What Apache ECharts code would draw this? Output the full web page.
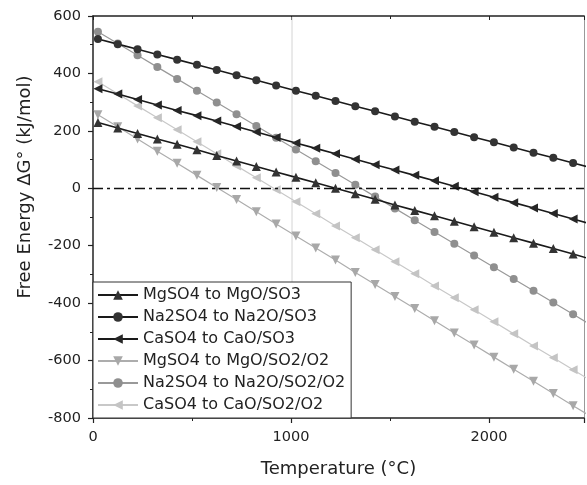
<!DOCTYPE html>
<html>
<head>
<meta charset="utf-8">
<script src="https://cdn.jsdelivr.net/npm/echarts@6/dist/echarts.min.js"></script>
<style>html,body{margin:0;padding:0;background:#fff;}#c{width:587px;height:485px;}</style>
</head>
<body>
<div id="c"></div>
<script>
var temps = [25,125,225,325,425,525,625,725,825,925,1025,1125,1225,1325,1425,1525,1625,1725,1825,1925,2025,2125,2225,2325,2425,2525];
var mgSO3 = [229,210,191,172,153,134,114,95,76,57,38,19,0,-19,-38,-58,-77,-96,-115,-134,-153,-172,-191,-210,-229,-249];
var naSO3 = [520,502,484,466,448,430,412,394,376,358,340,322,304,286,268,250,232,214,196,178,160,142,124,106,88,70];
var caSO3 = [347,328,309,290,271,253,234,215,196,177,158,139,120,101,82,64,45,26,7,-12,-31,-50,-69,-88,-107,-126];
var mgSO2 = [256,214,172,129,87,45,3,-39,-82,-124,-166,-208,-250,-293,-335,-377,-419,-461,-504,-546,-588,-630,-672,-715,-757,-799];
var naSO2 = [545,504,463,422,381,340,299,258,217,176,135,94,53,12,-29,-70,-111,-152,-193,-234,-275,-316,-357,-398,-439,-480];
var caSO2 = [371,329,287,246,204,162,120,78,37,-5,-47,-89,-131,-172,-214,-256,-298,-340,-381,-423,-465,-507,-549,-590,-632,-674];
var names = ['MgSO4 to MgO/SO3','Na2SO4 to Na2O/SO3','CaSO4 to CaO/SO3','MgSO4 to MgO/SO2/O2','Na2SO4 to Na2O/SO2/O2','CaSO4 to CaO/SO2/O2'];
var xTicks = [0,1000,2000];
var yTicks = [-800,-600,-400,-200,0,200,400,600];

function pairs(v){ return temps.map(function(t,i){ return [t, v[i]]; }); }
var FONT = 'DejaVu Sans';
function mk(name, vals, color, lineColor, symbol, rot, size, width, z){
  return {
    name: name, type: 'line', data: pairs(vals), z: z,
    symbol: symbol, symbolRotate: rot, symbolSize: size,
    itemStyle: {color: color},
    lineStyle: {color: lineColor, width: width},
    emphasis: {disabled: true}, animation: false, clip: true
  };
}
var series = [
  mk(names[5], caSO2, '#c4c4c4', '#c8c8c8', 'triangle', 90, 9, 1.2, 2),
  mk(names[3], mgSO2, '#a8a8a8', '#adadad', 'triangle', 180, 9, 1.2, 2),
  mk(names[4], naSO2, '#8f8f8f', '#999999', 'circle', 0, 8, 1.2, 3),
  mk(names[2], caSO3, '#262626', '#1a1a1a', 'triangle', 90, 9, 1.6, 4),
  mk(names[1], naSO3, '#333333', '#1a1a1a', 'circle', 0, 8, 1.6, 4),
  mk(names[0], mgSO3, '#333333', '#1a1a1a', 'triangle', 0, 9, 1.6, 4)
];
series[0].markLine = {
  silent: true, symbol: 'none', label: {show: false}, animation: false,
  data: [
    {yAxis: 0, lineStyle: {color: '#111', width: 1.3, type: [10,4,3,4]}}
  ]
};
var chart = echarts.init(document.getElementById('c'));
chart.setOption({
  animation: false,
  backgroundColor: '#fff',
  grid: {left: 93, right: 3, top: 16, bottom: 67},
  xAxis: [{
    type: 'value', min: 0, max: 2480, interval: 1000,
    name: 'Temperature (°C)', nameLocation: 'middle', nameGap: 42,
    nameTextStyle: {fontFamily: FONT, fontSize: 18, color: '#222'},
    axisLine: {show: true, onZero: false, lineStyle: {color: '#222', width: 1.5}},
    axisTick: {show: true, length: 5, lineStyle: {color: '#222', width: 1.2}},
    minorTick: {show: true, splitNumber: 2, length: 3, lineStyle: {color: '#222'}},
    axisLabel: {fontFamily: FONT, fontSize: 14.5, color: '#222', margin: 12,
      formatter: function(v){ return xTicks.indexOf(v) >= 0 ? String(v) : ''; }},
    splitLine: {show: false}, minorSplitLine: {show: false}
  }, {
    type: 'value', min: 0, max: 2480, interval: 1000, position: 'top',
    axisLine: {show: true, onZero: false, lineStyle: {color: '#222', width: 1.5}},
    axisTick: {show: true, inside: true, length: 4, lineStyle: {color: '#222'}},
    minorTick: {show: true, splitNumber: 2, length: 3},
    axisLabel: {show: false}, splitLine: {show: false}, minorSplitLine: {show: false}
  }],
  yAxis: [{
    type: 'value', min: -800, max: 600, interval: 200,
    axisLine: {show: true, onZero: false, lineStyle: {color: '#222', width: 1.5}},
    axisTick: {show: true, length: 5, lineStyle: {color: '#222', width: 1.2}},
    minorTick: {show: true, splitNumber: 2, length: 3, lineStyle: {color: '#222'}},
    axisLabel: {fontFamily: FONT, fontSize: 14.5, color: '#222', margin: 12},
    splitLine: {show: false}
  }, {
    type: 'value', min: -800, max: 600, interval: 200, position: 'right',
    axisLine: {show: true, onZero: false, lineStyle: {color: '#999', width: 1}},
    axisTick: {show: false}, axisLabel: {show: false}, splitLine: {show: false}
  }],
  legend: {
    orient: 'vertical', left: 93, top: 282, z: 20,
    data: names,
    itemWidth: 40, itemHeight: 12, itemGap: 6,
    padding: [5, 6, 5, 4],
    borderColor: '#333', borderWidth: 1, backgroundColor: '#fff',
    textStyle: {fontFamily: FONT, fontSize: 16, color: '#222', lineHeight: 16},
    selectedMode: false
  },
  graphic: [{
    type: 'text', x: 25, y: 187, rotation: Math.PI / 2,
    style: {text: 'Free Energy ΔG° (kJ/mol)', font: '18px "DejaVu Sans"', fill: '#222',
      textAlign: 'center', textVerticalAlign: 'middle'}
  }, {
    type: 'line', z: 1, silent: true,
    shape: {x1: 292, y1: 17, x2: 292, y2: 282},
    style: {stroke: '#d4d4d4', lineWidth: 1}
  }],
  series: series
});
</script>
</body>
</html>
